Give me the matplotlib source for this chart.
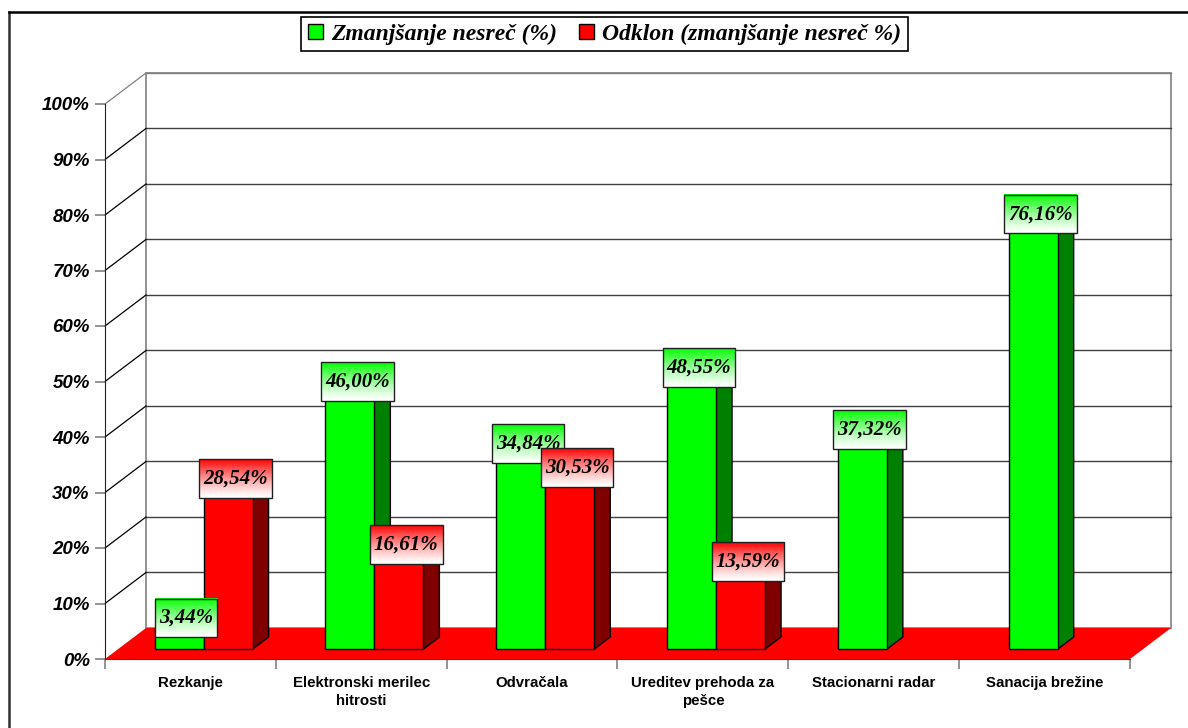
import numpy as np
import matplotlib
matplotlib.use("Agg")
import matplotlib.pyplot as plt
from matplotlib.patches import Polygon, Rectangle, Patch
from matplotlib.lines import Line2D

# ---- data -------------------------------------------------------------
categories = ["Rezkanje", "Elektronski merilec\nhitrosti", "Odvračala",
              "Ureditev prehoda za\npešce", "Stacionarni radar", "Sanacija brežine"]
zmanjsanje = [3.44, 46.00, 34.84, 48.55, 37.32, 76.16]
odklon = [28.54, 16.61, 30.53, 13.59, None, None]
series_names = ["Zmanjšanje nesreč (%)", "Odklon (zmanjšanje nesreč %)"]
y_ticks = [0, 10, 20, 30, 40, 50, 60, 70, 80, 90, 100]
y_tick_labels = ["0%", "10%", "20%", "30%", "40%", "50%", "60%", "70%", "80%", "90%", "100%"]

# ---- style ------------------------------------------------------------
SANS = "Liberation Sans"
SERIF = "Liberation Serif"
GREEN, GREEN_SIDE = "#00FF00", "#008000"
RED, RED_SIDE = "#FF0000", "#800000"

W, H, DPI = 11.88, 7.28, 100
fig = plt.figure(figsize=(W, H), dpi=DPI)
fig.patch.set_facecolor("white")

# outer chart frame (top and left edges visible)
fig.add_artist(Line2D([9 / 1188, 9 / 1188], [-0.1, 1 - 12 / 728],
                      transform=fig.transFigure, color="#303030", lw=1.8))
fig.add_artist(Line2D([9 / 1188, 1.1], [1 - 12 / 728, 1 - 12 / 728],
                      transform=fig.transFigure, color="black", lw=1.8))

# front plane of the plot area
ax = fig.add_axes([105 / 1188, 69 / 728, 1025 / 1188, 555 / 728])
ax.set_xlim(-0.5, len(categories) - 0.5)
ax.set_ylim(0, 100)
ax.patch.set_alpha(0)

n = len(categories)
x = np.arange(n)
DX, DY = 0.24, 5.59          # depth of the 3-D box (category units, percent)
F0, F1 = 0.32, 0.71          # bar depth as a fraction of the box depth
BW = 0.287                   # bar width

xl, xr = -0.5, n - 0.5

# back wall
ax.add_patch(Rectangle((xl + DX, DY), xr - xl, 100, facecolor="white",
                       edgecolor="#808080", lw=1.2, zorder=1, clip_on=False))
for v in y_ticks[1:]:
    ax.plot([xl + DX, xr + DX], [v + DY, v + DY], color="#404040" if v < 100 else "#808080",
            lw=1.0, zorder=1.5, clip_on=False)
    ax.plot([xl, xl + DX], [v, v + DY], color="black" if v < 100 else "#808080",
            lw=0.9, zorder=1.5, clip_on=False)

# floor
ax.add_patch(Polygon([(xl, 0), (xr, 0), (xr + DX, DY), (xl + DX, DY)], closed=True,
                     facecolor=RED, edgecolor="none", zorder=2, clip_on=False))


def draw_bar(x0, v, face, side, z):
    x1 = x0 + BW
    a0x, a0y = F0 * DX, F0 * DY
    a1x, a1y = F1 * DX, F1 * DY
    kw = dict(edgecolor="black", lw=1.0, zorder=z, clip_on=False, joinstyle="miter")
    ax.add_patch(Polygon([(x1 + a0x, a0y), (x1 + a1x, a1y), (x1 + a1x, v + a1y),
                          (x1 + a0x, v + a0y)], closed=True, facecolor=side, **kw))
    ax.add_patch(Polygon([(x0 + a0x, v + a0y), (x1 + a0x, v + a0y), (x1 + a1x, v + a1y),
                          (x0 + a1x, v + a1y)], closed=True, facecolor=face, **kw))
    ax.add_patch(Rectangle((x0 + a0x, a0y), BW, v, facecolor=face, **kw))


z = 3
for i in range(n):
    draw_bar(x[i] - BW, zmanjsanje[i], GREEN, GREEN_SIDE, z)
    z += 0.1
    if odklon[i] is not None:
        draw_bar(x[i], odklon[i], RED, RED_SIDE, z)
        z += 0.1

# value labels with gradient boxes
renderer = fig.canvas.get_renderer()
px_per_x = ax.transData.transform((1, 0))[0] - ax.transData.transform((0, 0))[0]
BOX_H = 6.94
BOX_OFF = 0.52
grad = np.linspace(0, 1, 64)[:, None]


def value_label(xc, v, color, z):
    txt = f"{v:.2f}%".replace(".", ",")
    y0 = v + BOX_OFF
    t = ax.text(xc, y0 + BOX_H / 2, txt, ha="center", va="center",
                fontfamily=SERIF, fontsize=15, fontweight="bold", fontstyle="italic",
                color="black", zorder=z + 0.05, clip_on=False)
    wpx = t.get_window_extent(renderer=renderer).width + 8
    bw = wpx / px_per_x
    rgb = np.array(matplotlib.colors.to_rgb(color))
    s = (1 - grad) ** 1.3           # strongest at the top, fading to white
    img = (1 - s)[..., None] * 1.0 + s[..., None] * rgb[None, None, :]
    img = np.repeat(img, 2, axis=1)
    ax.imshow(img, extent=(xc - bw / 2, xc + bw / 2, y0, y0 + BOX_H),
              origin="upper", aspect="auto", zorder=z, clip_on=False, interpolation="bilinear")
    ax.add_patch(Rectangle((xc - bw / 2, y0), bw, BOX_H, facecolor="none",
                           edgecolor="#202020", lw=1.0, zorder=z + 0.02, clip_on=False))


z = 10
for i in range(n):
    value_label(x[i] - BW / 2 + 0.5 * DX, zmanjsanje[i], GREEN, z)
    z += 0.2
    if odklon[i] is not None:
        value_label(x[i] + BW / 2 + 0.5 * DX, odklon[i], RED, z)
        z += 0.2

ax.set_xlim(xl, xr)
ax.set_ylim(0, 100)

# axes, ticks and tick labels
for s in ("top", "right"):
    ax.spines[s].set_visible(False)
ax.spines["left"].set_color("#202020")
ax.spines["bottom"].set_color("#404040")
ax.spines["left"].set_zorder(2.5)
ax.spines["bottom"].set_zorder(2.5)

ax.set_yticks(y_ticks)
ax.set_yticklabels(y_tick_labels, fontfamily=SANS, fontsize=13.5, fontweight="bold",
                   fontstyle="italic")
ax.tick_params(axis="y", length=7, width=1.2, color="#808080", pad=4)

ax.set_xticks(x)
ax.set_xticklabels(categories, fontfamily=SANS, fontsize=10.8, fontweight="bold",
                   linespacing=1.4)
ax.set_xticks(np.arange(n + 1) - 0.5, minor=True)
ax.tick_params(axis="x", which="major", length=0, pad=12)
ax.tick_params(axis="x", which="minor", length=7, width=1.2, color="#808080")

# legend
handles = [Patch(facecolor=GREEN, edgecolor="black", lw=1.0),
           Patch(facecolor=RED, edgecolor="black", lw=1.0)]
leg = fig.legend(handles, series_names, loc="upper center", ncol=2,
                 bbox_to_anchor=(604.5 / 1188, 1 - 17 / 728), borderaxespad=0,
                 prop=dict(family=SERIF, size=17, weight="bold", style="italic"),
                 fancybox=False, framealpha=1, edgecolor="black",
                 handlelength=0.65, handleheight=0.65, handletextpad=0.35,
                 columnspacing=0.9, borderpad=0.28)
leg.get_frame().set_linewidth(1.2)

fig.savefig("out.png", dpi=DPI, facecolor="white")
